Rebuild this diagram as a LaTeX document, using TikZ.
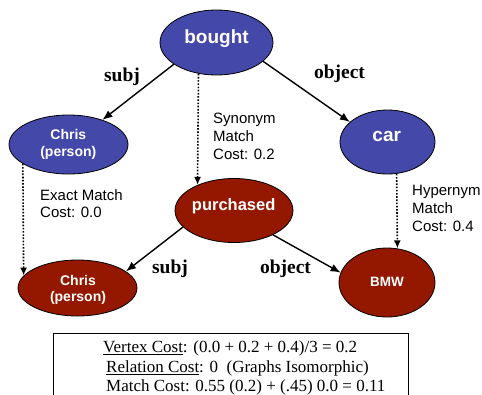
\documentclass[tikz,border=0pt]{standalone}
\usepackage{fontspec}
\setmainfont{Liberation Serif}
\setsansfont{Liberation Sans}
\usetikzlibrary{shapes.geometric,arrows.meta}
\definecolor{nblue}{HTML}{4448A8}
\definecolor{nred}{HTML}{941800}
\tikzset{
  ell/.style={ellipse, draw=black, line width=0.8pt, inner sep=0pt},
  bluell/.style={ell, fill=nblue},
  redell/.style={ell, fill=nred},
  ntext/.style={anchor=base, text=white, inner sep=0pt, font=\sffamily\bfseries},
  edgelbl/.style={anchor=base, inner sep=0pt, font=\fontsize{19.5}{20}\selectfont\bfseries},
  costlbl/.style={anchor=base west, inner sep=0pt, align=left, font=\sffamily\fontsize{15}{18}\selectfont},
  boxtext/.style={anchor=base west, inner sep=0pt, font=\fontsize{17}{19.5}\selectfont},
  rel/.style={line width=1.4pt, -{Latex[length=10pt,width=8pt]}},
  match/.style={line width=1.6pt, dash pattern=on 1.6pt off 1.6pt, -{Latex[length=8pt,width=7pt]}}
}
\begin{document}
\begin{tikzpicture}[x=1pt,y=-1pt]
\useasboundingbox (0,0) rectangle (482,394);
\clip (0,0) rectangle (482,394);
% ellipses
\node[bluell, minimum width=113pt, minimum height=65pt] (bought) at (216.5,42.5) {};
\node[bluell, minimum width=119pt, minimum height=59pt] (chrisA) at (68.5,144.5) {};
\node[bluell, minimum width=95pt, minimum height=64pt] (car) at (387.5,142) {};
\node[redell, minimum width=118pt, minimum height=64pt] (purch) at (234,210.5) {};
\node[redell, minimum width=119pt, minimum height=56pt] (chrisB) at (77.5,288) {};
\node[redell, minimum width=96pt, minimum height=69pt] (bmw) at (387,282.5) {};
% node texts
\node[ntext, font=\sffamily\bfseries\fontsize{19}{20}\selectfont] (tbought) at (216.5,43.3) {bought};
\node[ntext, font=\sffamily\bfseries\fontsize{19}{20}\selectfont] (tcar) at (386.7,141.7) {car};
\node[ntext, font=\sffamily\bfseries\fontsize{16.5}{18}\selectfont] (tpurch) at (233.7,210) {purchased};
\node[ntext, font=\sffamily\bfseries\fontsize{13.5}{15}\selectfont] (tbmw) at (387,286.7) {BMW};
\node[ntext, font=\sffamily\bfseries\fontsize{14}{15}\selectfont] (tchrisA1) at (68.3,139.3) {Chris};
\node[ntext, font=\sffamily\bfseries\fontsize{14}{15}\selectfont] (tchrisA2) at (68.3,156.7) {(person)};
\node[ntext, font=\sffamily\bfseries\fontsize{14}{15}\selectfont] (tchrisB1) at (78,285) {Chris};
\node[ntext, font=\sffamily\bfseries\fontsize{14}{15}\selectfont] (tchrisB2) at (78,301.7) {(person)};
% relation arrows
\draw[rel] (bought.207) -- (chrisA.36);
\draw[rel] (bought.338) -- (car.152);
\draw[rel] (purch.198.6) -- (chrisB.19.4);
\draw[rel] (purch.328) -- (bmw.168.6);
% match arrows
\draw[match] (bought.240) -- (purch.145);
\draw[match] (chrisA.203.8) -- (chrisB.167);
\draw[match] (car.286.8) -- (bmw.73.5);
% edge labels
\node[edgelbl] (ls1) at (122,81) {subj};
\node[edgelbl] (lo1) at (339.5,78) {object};
\node[edgelbl] (ls2) at (170,273) {subj};
\node[edgelbl] (lo2) at (285.5,273) {object};
% cost labels
\node[costlbl] (c1a) at (213,123) {Synonym};
\node[costlbl] (c1b) at (213,141) {Match};
\node[costlbl] (c1c) at (213,159) {Cost: 0.2};
\node[costlbl] (c2a) at (40,200) {Exact Match};
\node[costlbl] (c2b) at (40,217) {Cost: 0.0};
\node[costlbl] (c3a) at (412,195.7) {Hypernym};
\node[costlbl] (c3b) at (412,213.7) {Match};
\node[costlbl] (c3c) at (412,231.7) {Cost: 0.4};
% summary box
\draw[line width=0.8pt] (53,333.3) rectangle (408,420);
\node[boxtext] (b1) at (103,352.7) {\underline{Vertex Cost}: (0.0 + 0.2 + 0.4)/3 = 0.2};
\node[boxtext] (b2) at (106,372.7) {\underline{Relation Cost}: 0\ \ (Graphs Isomorphic)};
\node[boxtext] (b3) at (106,391.7) {Match Cost: 0.55 (0.2) + (.45) 0.0 = 0.11};
\end{tikzpicture}
\end{document}
